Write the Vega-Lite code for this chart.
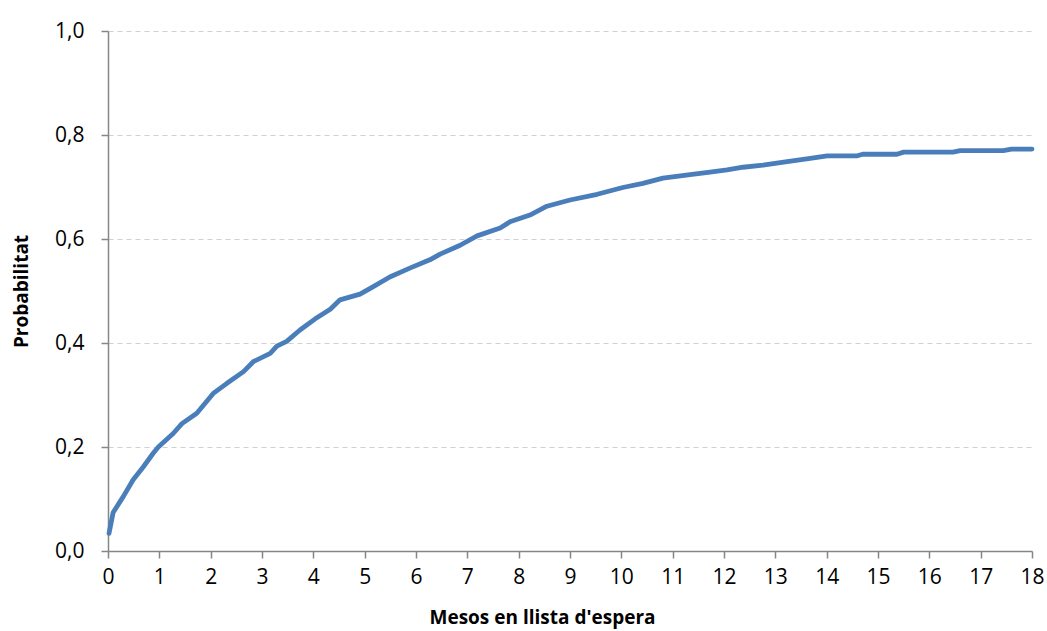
{
  "$schema": "https://vega.github.io/schema/vega-lite/v6.json",
  "autosize": "none",
  "width": 924,
  "height": 520,
  "padding": {"left": 108, "top": 31, "right": 15, "bottom": 80},
  "background": "white",
  "config": {"view": {"stroke": null}, "font": "Open Sans"},
  "data": {"values": [
    {"m": 0.02, "p": 0.034},
    {"m": 0.10, "p": 0.074},
    {"m": 0.30, "p": 0.105},
    {"m": 0.49, "p": 0.137},
    {"m": 0.69, "p": 0.162},
    {"m": 0.88, "p": 0.188},
    {"m": 0.98, "p": 0.200},
    {"m": 1.27, "p": 0.226},
    {"m": 1.44, "p": 0.245},
    {"m": 1.73, "p": 0.265},
    {"m": 2.05, "p": 0.303},
    {"m": 2.31, "p": 0.322},
    {"m": 2.64, "p": 0.345},
    {"m": 2.83, "p": 0.364},
    {"m": 3.16, "p": 0.380},
    {"m": 3.29, "p": 0.394},
    {"m": 3.48, "p": 0.403},
    {"m": 3.74, "p": 0.425},
    {"m": 4.03, "p": 0.446},
    {"m": 4.33, "p": 0.465},
    {"m": 4.52, "p": 0.483},
    {"m": 4.91, "p": 0.494},
    {"m": 5.16, "p": 0.508},
    {"m": 5.49, "p": 0.527},
    {"m": 5.88, "p": 0.544},
    {"m": 6.27, "p": 0.560},
    {"m": 6.47, "p": 0.571},
    {"m": 6.86, "p": 0.588},
    {"m": 7.19, "p": 0.606},
    {"m": 7.64, "p": 0.621},
    {"m": 7.83, "p": 0.633},
    {"m": 8.22, "p": 0.646},
    {"m": 8.55, "p": 0.663},
    {"m": 9.00, "p": 0.675},
    {"m": 9.53, "p": 0.686},
    {"m": 10.03, "p": 0.699},
    {"m": 10.42, "p": 0.707},
    {"m": 10.81, "p": 0.717},
    {"m": 11.34, "p": 0.724},
    {"m": 11.69, "p": 0.728},
    {"m": 12.06, "p": 0.733},
    {"m": 12.37, "p": 0.738},
    {"m": 12.76, "p": 0.742},
    {"m": 13.23, "p": 0.749},
    {"m": 13.68, "p": 0.755},
    {"m": 14.01, "p": 0.760},
    {"m": 14.6, "p": 0.760},
    {"m": 14.7, "p": 0.763},
    {"m": 15.37, "p": 0.763},
    {"m": 15.5, "p": 0.767},
    {"m": 16.46, "p": 0.767},
    {"m": 16.6, "p": 0.770},
    {"m": 17.44, "p": 0.770},
    {"m": 17.6, "p": 0.773},
    {"m": 18.0, "p": 0.773}
  ]},
  "mark": {"type": "line", "color": "#4a7ebb", "strokeWidth": 4.8, "strokeJoin": "round", "strokeCap": "round"},
  "encoding": {
    "x": {
      "field": "m", "type": "quantitative",
      "scale": {"domain": [0, 18], "nice": false, "zero": false},
      "axis": {
        "title": "Mesos en llista d'espera",
        "titleX": 434, "titleAlign": "center",
        "values": [0,1,2,3,4,5,6,7,8,9,10,11,12,13,14,15,16,17,18],
        "grid": false,
        "domainColor": "#868686", "domainWidth": 1.5,
        "tickColor": "#868686", "tickSize": 7, "tickWidth": 1.5,
        "labelFontSize": 21, "labelColor": "#000000", "labelPadding": 8, "labelFlush": false,
        "titleFontSize": 19, "titleFontWeight": "bold", "titleColor": "#000000", "titlePadding": 21
      }
    },
    "y": {
      "field": "p", "type": "quantitative",
      "scale": {"domain": [0, 1], "nice": false},
      "axis": {
        "title": "Probabilitat",
        "values": [0, 0.2, 0.4, 0.6, 0.8, 1.0],
        "labelExpr": "replace(format(datum.value, '.1f'), '.', ',')",
        "grid": true, "gridColor": "#d0d0d0", "gridDash": [5, 4], "gridWidth": 1.2,
        "domainColor": "#868686", "domainWidth": 1.5,
        "tickColor": "#868686", "tickSize": 7, "tickWidth": 1.5,
        "labelFontSize": 21, "labelColor": "#000000", "labelPadding": 17,
        "titleFontSize": 19, "titleFontWeight": "bold", "titleColor": "#000000", "titlePadding": 23
      }
    }
  }
}
